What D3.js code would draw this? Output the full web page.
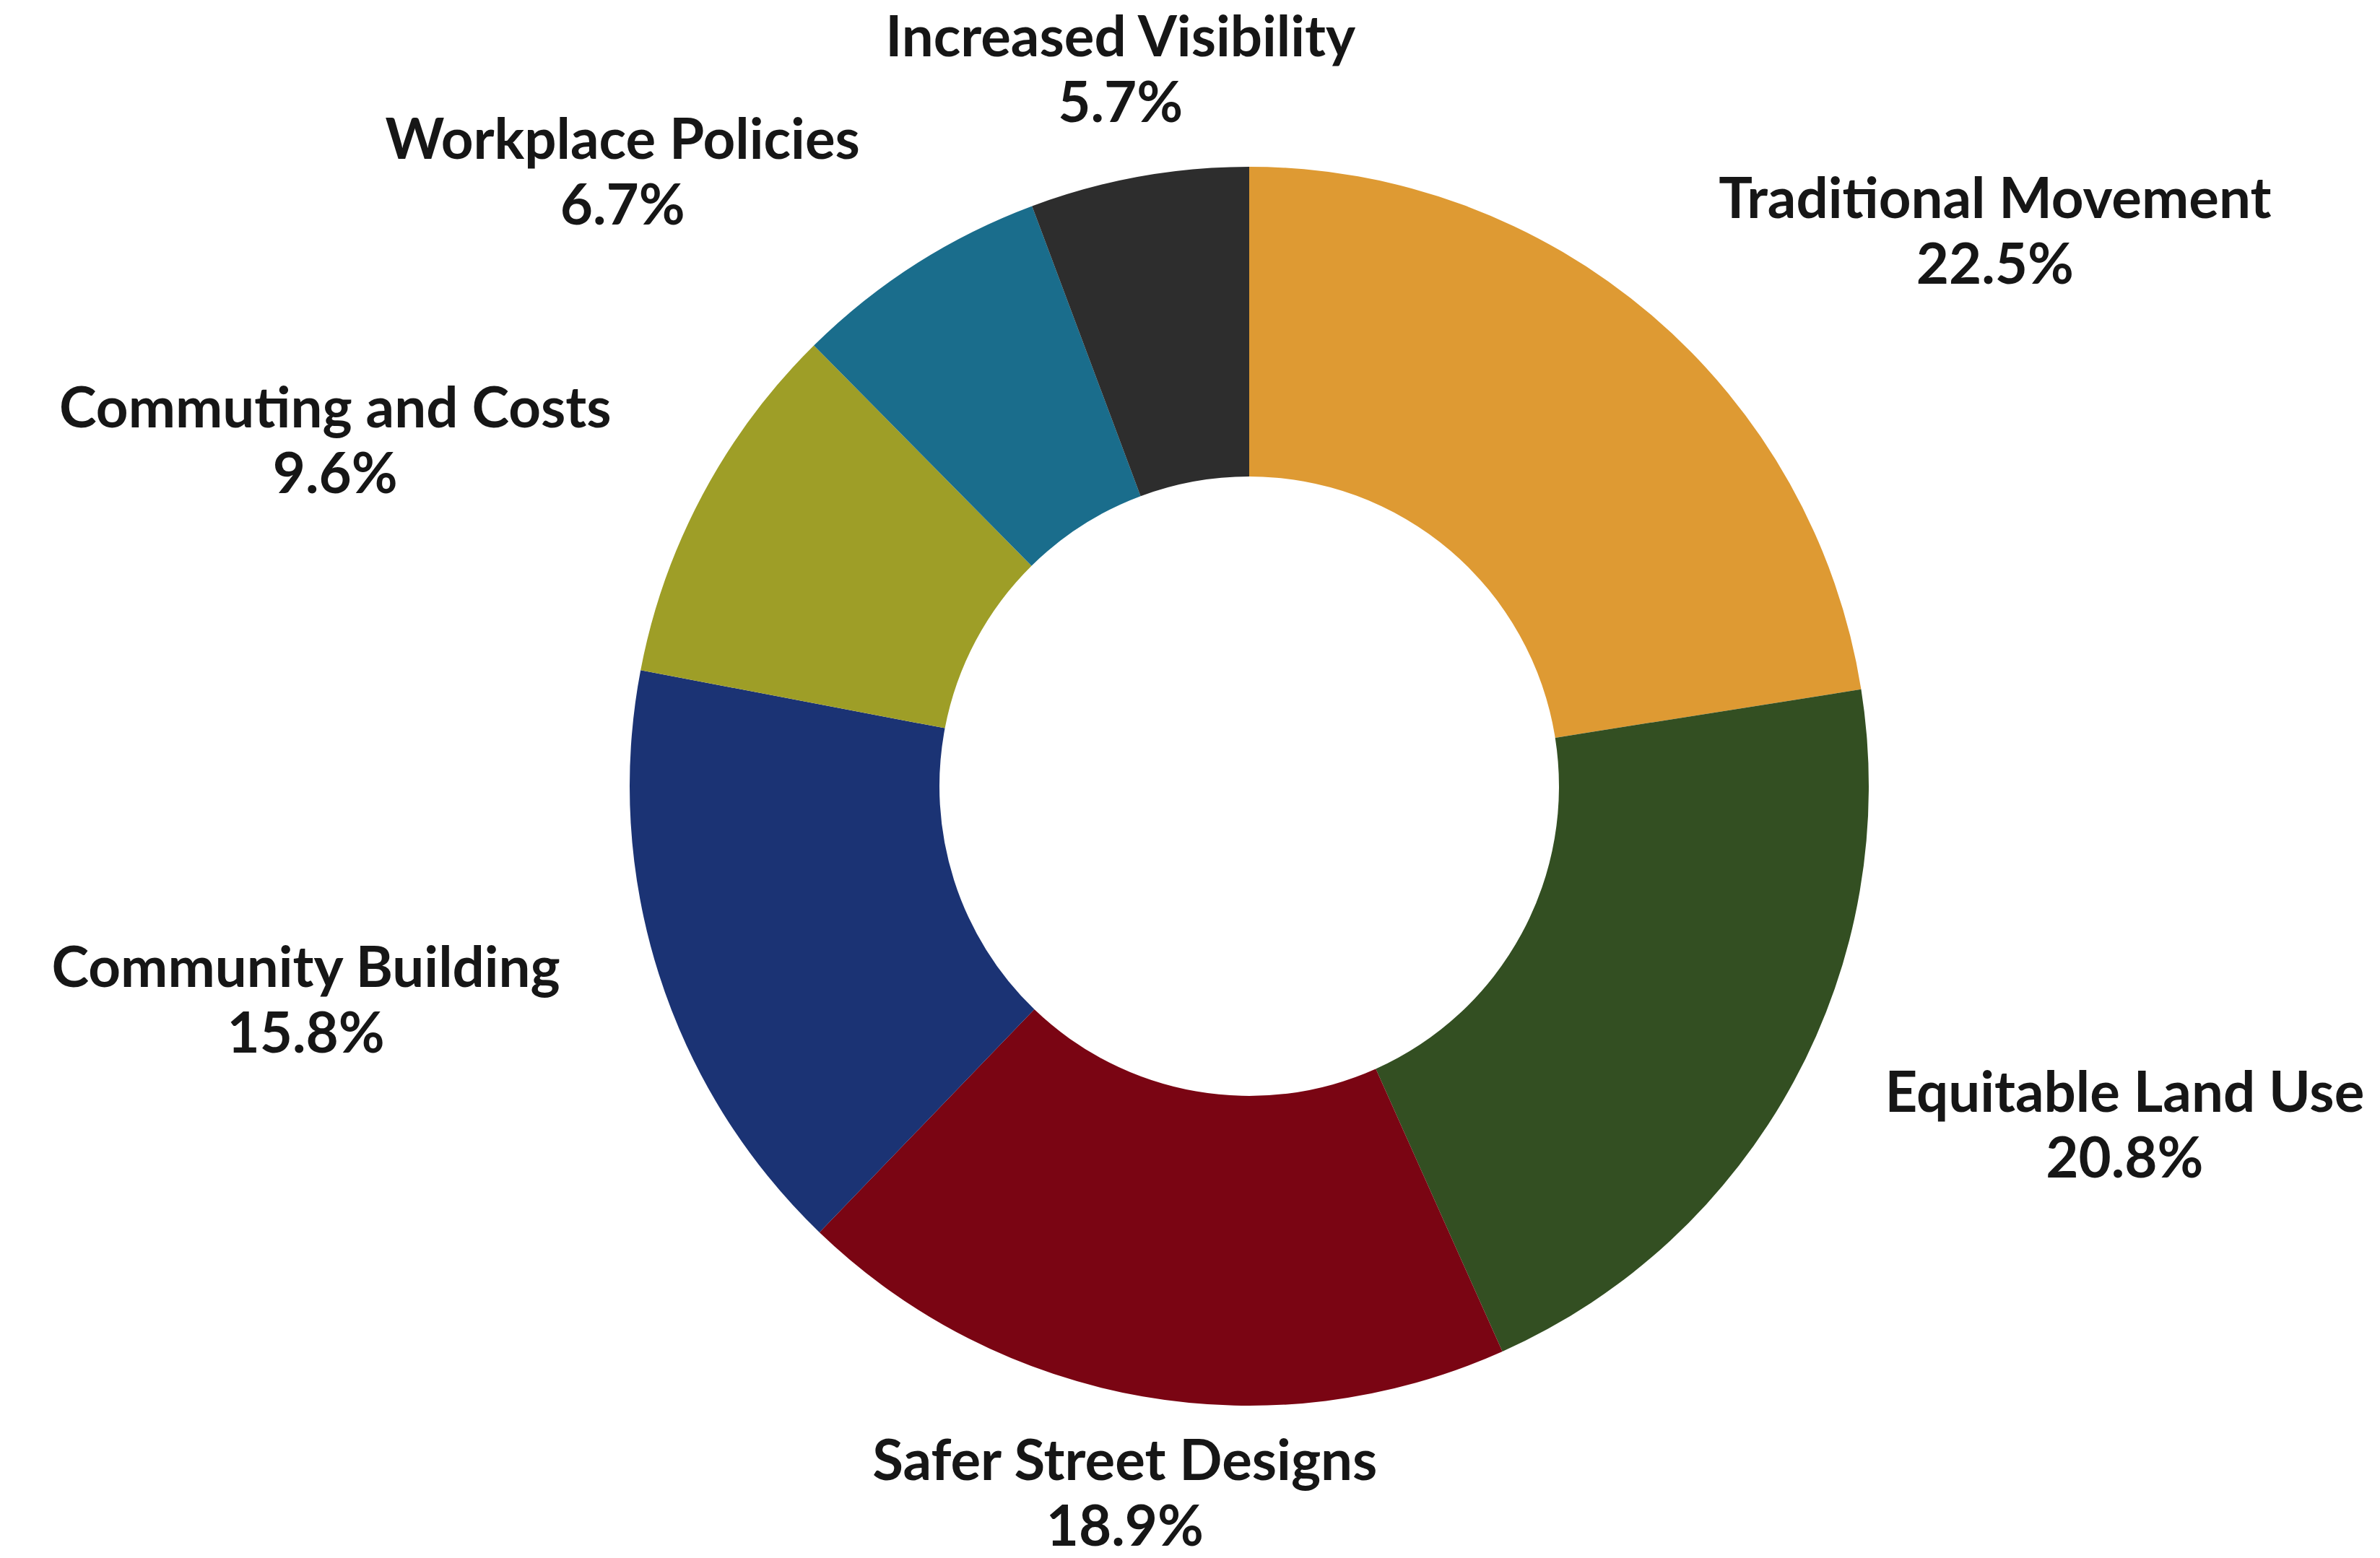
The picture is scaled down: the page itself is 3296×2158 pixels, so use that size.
<!DOCTYPE html>
<html>
<head>
<meta charset="utf-8">
<script src="https://cdn.jsdelivr.net/npm/d3@7"></script>
<style>
  body { margin: 0; background: #fff; }
  text { font-family: Lato, "Noto Sans", sans-serif; font-weight: 700; fill: #161616; }
</style>
</head>
<body>
<div id="chart"></div>
<script>
// slices, clockwise from 12 o'clock
const categories = [
  "Traditional Movement",
  "Equitable Land Use",
  "Safer Street Designs",
  "Community Building",
  "Commuting and Costs",
  "Workplace Policies",
  "Increased Visibility"
];
const shares = [22.5, 20.8, 18.9, 15.8, 9.6, 6.7, 5.7];
const colors = ["#de9a33", "#334f22", "#7a0513", "#1b3374", "#9e9e27", "#1a6d8c", "#2d2d2d"];

const width = 3296;
const height = 2158;
const cx = 1730, cy = 1089;
const outerR = 858;
const innerR = 429;
const labelR = outerR * 1.167;
const fontSize = 78;
const lineGap = 91;

const svg = d3.select("#chart")
    .append("svg")
    .attr("width", width)
    .attr("height", height);

svg.append("rect")
    .attr("width", width)
    .attr("height", height)
    .attr("fill", "#fff");

const g = svg.append("g")
    .attr("transform", `translate(${cx},${cy})`);

const data = categories.map((c, i) => ({name: c, value: shares[i], color: colors[i]}));

const pie = d3.pie()
    .sort(null)
    .value(d => d.value);

const arc = d3.arc()
    .innerRadius(innerR)
    .outerRadius(outerR);

const labelArc = d3.arc()
    .innerRadius(labelR)
    .outerRadius(labelR);

const arcs = pie(data);

g.selectAll("path.slice")
    .data(arcs)
    .enter()
    .append("path")
    .attr("class", "slice")
    .attr("d", arc)
    .attr("fill", d => d.data.color);

const total = d3.sum(shares);

const labels = g.selectAll("text.label")
    .data(arcs)
    .enter()
    .append("text")
    .attr("class", "label")
    .attr("font-size", fontSize)
    .attr("text-anchor", "middle");

labels.each(function(d) {
    const t = d3.select(this);
    const [px, py] = labelArc.centroid(d);
    const mid = (d.startAngle + d.endAngle) / 2;
    const s = Math.sin(mid);

    const l1 = t.append("tspan").text(d.data.name);
    const l2 = t.append("tspan").text((d.value / total * 100).toFixed(1) + "%");
    const w = Math.max(l1.node().getComputedTextLength(), l2.node().getComputedTextLength());

    // left / right / centred block depending on side of the ring
    let bx = px;
    if (Math.abs(s) >= 0.3) bx = s > 0 ? px + w / 2 : px - w / 2;

    const shift = 20;
    l1.attr("x", bx).attr("y", py - lineGap / 2 + shift);
    l2.attr("x", bx).attr("y", py + lineGap / 2 + shift);
});
</script>
</body>
</html>
